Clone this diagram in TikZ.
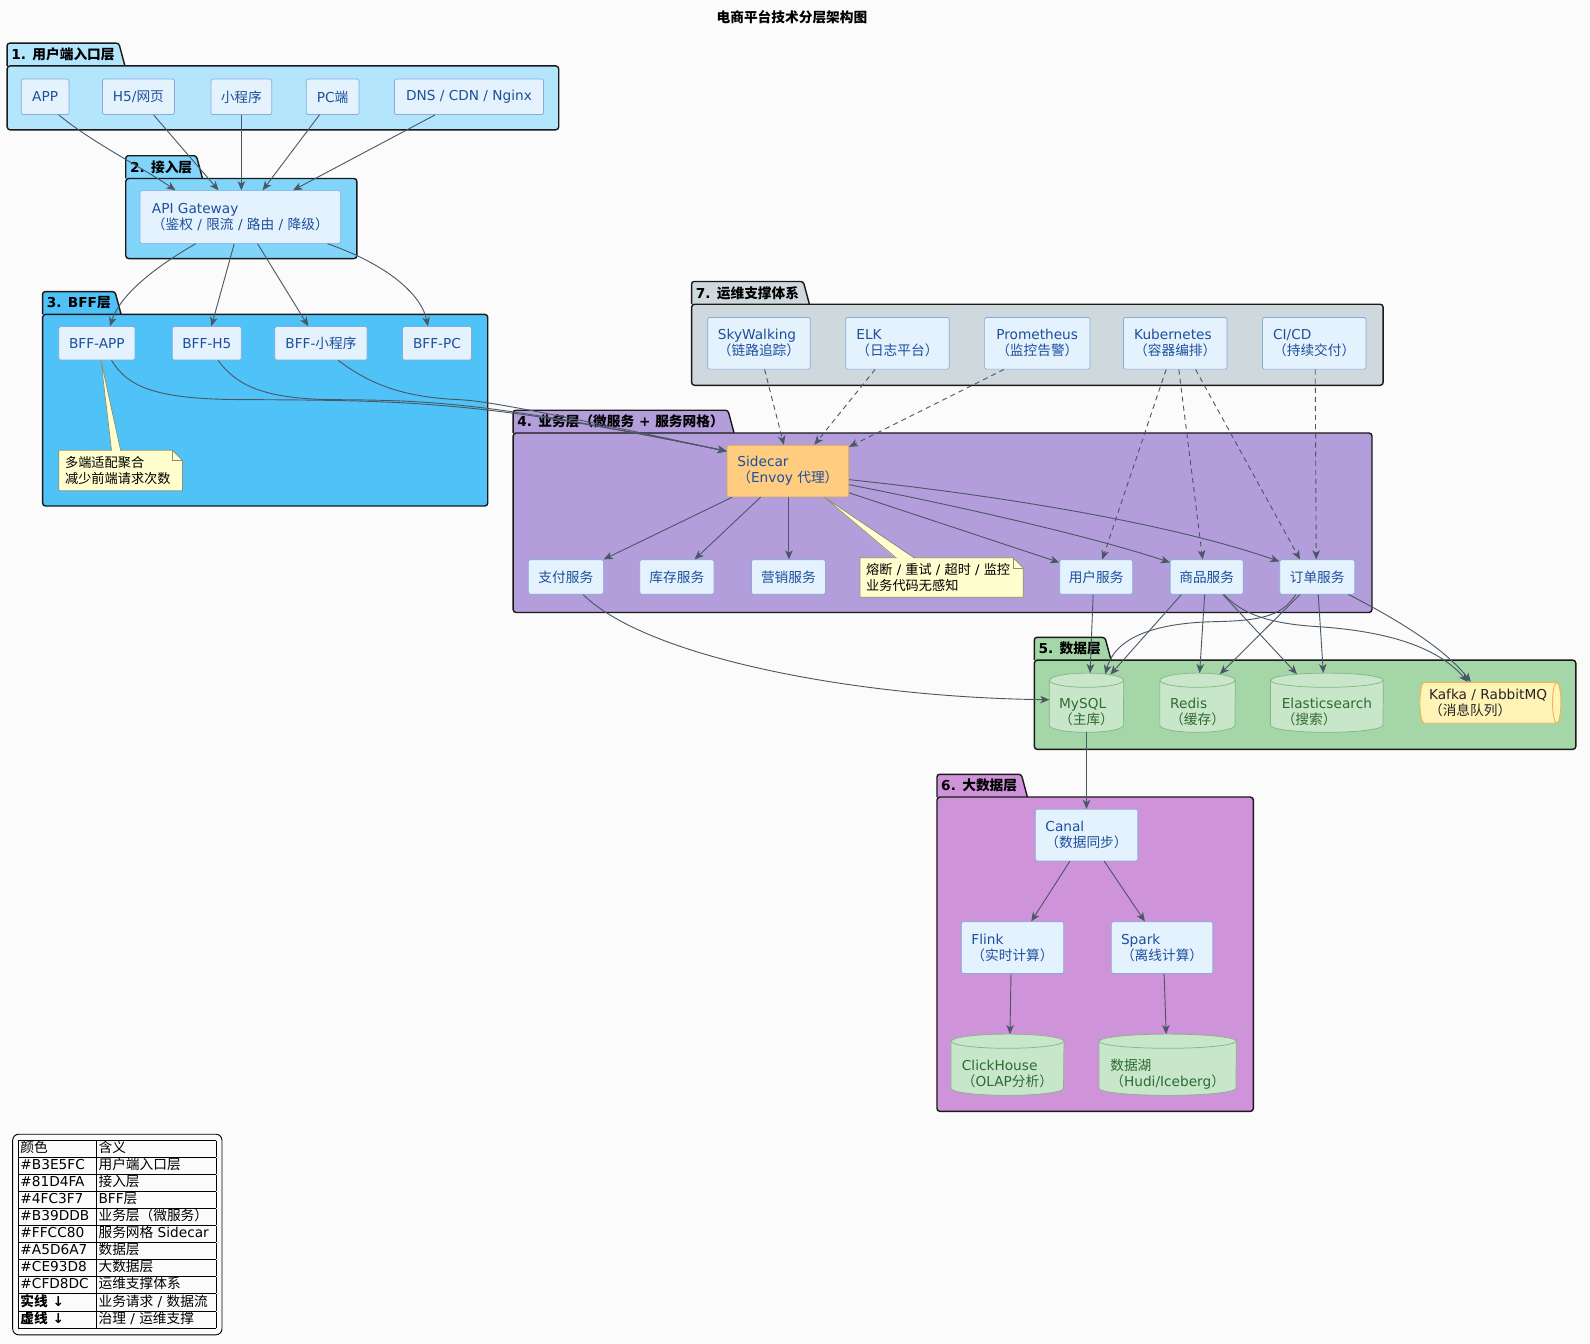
\documentclass[tikz,border=0pt]{standalone}
\usepackage{fontspec}
\setmainfont{DejaVu Sans}
\newfontfamily\cjkfont{Noto Sans CJK SC}
\usetikzlibrary{arrows.meta,shapes.geometric,fit}

\XeTeXinterchartokenstate=1
\newXeTeXintercharclass\cjkcls
\newcount\cjkc
\cjkc="2E80 \loop\XeTeXcharclass\cjkc=\cjkcls\ifnum\cjkc<"9FFF\advance\cjkc by 1\repeat
\cjkc="FF00 \loop\XeTeXcharclass\cjkc=\cjkcls\ifnum\cjkc<"FFEF\advance\cjkc by 1\repeat
\XeTeXinterchartoks 0 \cjkcls={\cjkfont}
\XeTeXinterchartoks 4095 \cjkcls={\cjkfont}
\XeTeXinterchartoks \cjkcls 0={\rmfamily}
\XeTeXinterchartoks \cjkcls 4095={\rmfamily}

\definecolor{cBg}{HTML}{FBFBFB}
\definecolor{cP1}{HTML}{B3E5FC}
\definecolor{cP2}{HTML}{81D4FA}
\definecolor{cP3}{HTML}{4FC3F7}
\definecolor{cP4}{HTML}{B39DDB}
\definecolor{cSide}{HTML}{FFCC80}
\definecolor{cSideD}{HTML}{D4A55A}
\definecolor{cP5}{HTML}{A5D6A7}
\definecolor{cP6}{HTML}{CE93D8}
\definecolor{cP7}{HTML}{CFD8DC}
\definecolor{cCompF}{HTML}{E3F2FD}
\definecolor{cCompD}{HTML}{86ACDB}
\definecolor{cCompT}{HTML}{1E4F9C}
\definecolor{cCylF}{HTML}{C8E6C9}
\definecolor{cCylD}{HTML}{85B587}
\definecolor{cCylT}{HTML}{2E6B31}
\definecolor{cKafF}{HTML}{FFF3B5}
\definecolor{cKafD}{HTML}{F2B552}
\definecolor{cNoteF}{HTML}{FEFECE}
\definecolor{cNoteD}{HTML}{8E8E72}
\definecolor{cArr}{HTML}{4A5866}

\newcommand\lbl{\fontsize{13.5}{16}\selectfont}
\newcommand\lgd{\fontsize{13.5}{15.6}\selectfont}

\newcommand\pkg[7]{%
  \node[tabtxt,text opacity=0] (#1t) at (#2,#3) {#7};
  \draw[pkgline,fill=#6,rounded corners=2.5pt] (#1t.south west) -- (#1t.north west) -- (#1t.north east) -- ([xshift=6pt]#1t.south east);
  \draw[pkgline,fill=#6,rounded corners=3pt] (#2,#3) rectangle (#4,#5);
  \node[tabtxt] (#1l) at (#2,#3) {#7};
}
\newcommand\notebox[6]{%
  \draw[notebd] (#2,#3) -- (#4-10,#3) -- (#4,#3+10) -- (#4,#5) -- (#2,#5) -- cycle;
  \draw[notebd,fill=none] (#4-10,#3) -- (#4-10,#3+10) -- (#4,#3+10);
  \node[notetxt,anchor=west] (#1) at (#2+6,{(#3+#5)/2}) {#6};
}
% cylinder: name, x, y, width, height, text
\newcommand\dbcyl[6]{%
  \node[inner sep=0pt, minimum width=#4, minimum height=#5] (#1) at (#2,#3) {};
  \draw[cylst] ([yshift=-7pt]#1.north west) -- ([yshift=7pt]#1.south west)
    arc[start angle=180, end angle=360, x radius={#4*0.5pt}, y radius=7pt]
    -- ([yshift=-7pt]#1.north east)
    arc[start angle=0, end angle=180, x radius={#4*0.5pt}, y radius=7pt] -- cycle;
  \draw[cylst, fill=none] ([yshift=-7pt]#1.north west)
    arc[start angle=180, end angle=360, x radius={#4*0.5pt}, y radius=7pt];
  \node[cyltxt] (#1t) at ([yshift=-9pt]#1.center) {#6};
}

\begin{document}
\begin{tikzpicture}[x=1pt,y=-1pt,
  comp/.style={draw=cCompD, fill=cCompF, text=cCompT, line width=0.7pt, rounded corners=1.5pt, font=\lbl, inner sep=0pt},
  comp2/.style={comp, align=left},
  cylst/.style={draw=cCylD, fill=cCylF, line width=0.7pt},
  cyltxt/.style={text=cCylT, font=\lbl, align=left, inner sep=0pt},
  arr/.style={draw=cArr, line width=0.9pt, -{Stealth[length=9pt,width=7.5pt,inset=2.5pt]}},
  darr/.style={arr, dash pattern=on 5pt off 4pt},
  pkgline/.style={draw=black!90, line width=1.4pt},
  tabtxt/.style={font=\bfseries\lbl, inner xsep=4pt, inner ysep=0pt, minimum height=22pt, anchor=south west},
  notebd/.style={draw=cNoteD, fill=cNoteF, line width=0.7pt},
  notetxt/.style={font=\fontsize{13}{16}\selectfont, align=left, inner sep=0pt, text=black}
]
\fill[cBg] (0,0) rectangle (1568,1325);
\useasboundingbox (0,0) rectangle (1568,1325);

\node[font=\bfseries\lbl] (title) at (781,17) {电商平台技术分层架构图};

% packages
\pkg{p1}{7}{65}{551}{128}{cP1}{1. 用户端入口层}
\pkg{p2}{124}{176}{352}{255}{cP2}{2. 接入层}
\pkg{p3}{42}{310}{481}{499}{cP3}{3. BFF层}
\pkg{p7}{682}{300}{1364}{380}{cP7}{7. 运维支撑体系}
\pkg{p4}{506}{427}{1353}{604}{cP4}{4. 业务层（微服务 + 服务网格）}
\pkg{p5}{1020}{651}{1554}{739}{cP5}{5. 数据层}
\pkg{p6}{924}{786}{1236}{1096}{cP6}{6. 大数据层}

% layer 1
\node[comp, minimum width=47, minimum height=35] (app) at (44.5,95.5) {APP};
\node[comp, minimum width=71, minimum height=35] (h5) at (136.5,95.5) {H5/网页};
\node[comp, minimum width=60, minimum height=35] (mini) at (238,95.5) {小程序};
\node[comp, minimum width=52, minimum height=35] (pc) at (328,95.5) {PC端};
\node[comp, minimum width=147, minimum height=35] (dns) at (462.5,95.5) {DNS / CDN / Nginx};

% layer 2
\node[comp2, minimum width=198, minimum height=52] (gw) at (237,214) {API Gateway\\（鉴权 / 限流 / 路由 / 降级）};

% layer 3
\node[comp, minimum width=75, minimum height=33] (bffapp) at (95.5,338.5) {BFF-APP};
\node[comp, minimum width=68, minimum height=33] (bffh5) at (204,338.5) {BFF-H5};
\node[comp, minimum width=91, minimum height=33] (bffmini) at (316.5,338.5) {BFF-小程序};
\node[comp, minimum width=68, minimum height=33] (bffpc) at (431,338.5) {BFF-PC};
\notebox{n1}{58}{444}{180}{484}{多端适配聚合\\减少前端请求次数}

% layer 7
\node[comp2, minimum width=101, minimum height=51] (sky) at (748.5,338.5) {SkyWalking\\（链路追踪）};
\node[comp2, minimum width=102, minimum height=51] (elk) at (885,338.5) {ELK\\（日志平台）};
\node[comp2, minimum width=104, minimum height=51] (prom) at (1023,338.5) {Prometheus\\（监控告警）};
\node[comp2, minimum width=102, minimum height=51] (k8s) at (1159,338.5) {Kubernetes\\（容器编排）};
\node[comp2, minimum width=102, minimum height=51] (cicd) at (1296,338.5) {CI/CD\\（持续交付）};

% layer 4
\node[comp2, fill=cSide, draw=cSideD, minimum width=120, minimum height=51] (sidecar) at (777,464.5) {Sidecar\\（Envoy 代理）};
\node[comp, minimum width=74, minimum height=34] (pay) at (558,569) {支付服务};
\node[comp, minimum width=73, minimum height=34] (stock) at (667.5,569) {库存服务};
\node[comp, minimum width=73, minimum height=34] (mkt) at (777.5,569) {营销服务};
\notebox{n2}{848}{550}{1009}{589}{熔断 / 重试 / 超时 / 监控\\业务代码无感知}
\node[comp, minimum width=72, minimum height=34] (user) at (1081,569) {用户服务};
\node[comp, minimum width=72, minimum height=34] (goods) at (1190,569) {商品服务};
\node[comp, minimum width=74, minimum height=34] (order) at (1299,569) {订单服务};

% layer 5
\dbcyl{mysql}{1071.5}{693}{73}{58}{MySQL\\（主库）}
\dbcyl{redis}{1181}{693}{74}{58}{Redis\\（缓存）}
\dbcyl{es}{1308.5}{693}{111}{58}{Elasticsearch\\（搜索）}
\node[cylinder, aspect=0.3, draw=cKafD, fill=cKafF, text=black!85, line width=0.9pt, font=\lbl, align=left, inner sep=0pt, minimum width=40, minimum height=139] (kafka) at (1467.5,693) {Kafka / RabbitMQ\\（消息队列）};

% layer 6
\node[comp2, minimum width=101, minimum height=51] (canal) at (1071.5,823.5) {Canal\\（数据同步）};
\node[comp2, minimum width=101, minimum height=51] (flink) at (998.5,934.5) {Flink\\（实时计算）};
\node[comp2, minimum width=100, minimum height=51] (spark) at (1146,934.5) {Spark\\（离线计算）};
\dbcyl{ch}{993.5}{1050}{111}{60}{ClickHouse\\（OLAP分析）}
\dbcyl{lake}{1151.5}{1050}{135}{60}{数据湖\\（Hudi/Iceberg）}

% note wedges
\fill[cNoteF] ([xshift=4pt]bffapp.south) -- (110,445) -- (119,445) -- cycle;
\draw[cNoteD, line width=0.7pt] (110,444.3) -- ([xshift=4pt]bffapp.south) -- (119,444.3);
\fill[cNoteF] ([xshift=36pt]sidecar.south) -- (884,551) -- (902,551) -- cycle;
\draw[cNoteD, line width=0.7pt] (884,550.3) -- ([xshift=36pt]sidecar.south) -- (902,550.3);

% edges 1 -> 2
\draw[arr] ([xshift=13.5pt]app.south) .. controls (90,140) and (140,165) .. ([xshift=-64pt]gw.north);
\draw[arr] ([xshift=15pt]h5.south) -- ([xshift=-21.5pt]gw.north);
\draw[arr] (mini.south) -- ([xshift=1pt]gw.north);
\draw[arr] ([xshift=-13pt]pc.south) -- ([xshift=22pt]gw.north);
\draw[arr] ([xshift=-33.5pt]dns.south) -- ([xshift=52pt]gw.north);

% edges 2 -> 3
\draw[arr] ([xshift=-44pt]gw.south) .. controls (150,265) and (118,292) .. ([xshift=13pt]bffapp.north);
\draw[arr] ([xshift=-6pt]gw.south) -- ([xshift=4.5pt]bffh5.north);
\draw[arr] ([xshift=17pt]gw.south) -- ([xshift=-12.5pt]bffmini.north);
\draw[arr] ([xshift=86pt]gw.south) .. controls (385,262) and (416,292) .. ([xshift=-9pt]bffpc.north);

% edges 3 -> sidecar
\draw[arr] ([xshift=14.5pt]bffapp.south) .. controls (125,380) and (150,393) .. (230,394) .. controls (400,395) and (470,394) .. ([yshift=19.5pt]sidecar.west);
\draw[arr] ([xshift=11pt]bffh5.south) .. controls (232,378) and (255,392) .. (320,394) .. controls (420,395) and (470,394) .. ([yshift=19.5pt]sidecar.west);
\draw[arr] ([xshift=17pt]bffmini.south) .. controls (360,375) and (390,391) .. (450,394) .. controls (470,395) and (490,396) .. ([yshift=19.5pt]sidecar.west);

% ops dashed
\draw[darr] ([xshift=5.5pt]sky.south) -- ([xshift=-4pt]sidecar.north);
\draw[darr] ([xshift=-22pt]elk.south) -- ([xshift=26pt]sidecar.north);
\draw[darr] ([xshift=-33pt]prom.south) -- ([yshift=-2pt]sidecar.north east);
\draw[darr] ([xshift=-9pt]k8s.south) -- ([xshift=6pt]user.north);
\draw[darr] ([xshift=3.5pt]k8s.south) -- ([xshift=-4pt]goods.north);
\draw[darr] ([xshift=20pt]k8s.south) -- ([xshift=-17pt]order.north);
\draw[darr] ([xshift=1pt]cicd.south) -- ([xshift=-1pt]order.north);

% sidecar -> services
\draw[arr] ([xshift=-55pt]sidecar.south) -- (pay.north east);
\draw[arr] ([xshift=-27pt]sidecar.south) -- ([xshift=17.5pt]stock.north);
\draw[arr] ([xshift=1pt]sidecar.south) -- ([xshift=0.5pt]mkt.north);
\draw[arr] ([yshift=-21.5pt]sidecar.east) -- ([yshift=-3pt]user.north west);
\draw[arr] ([yshift=-13.5pt]sidecar.east) .. controls (950,500) and (1080,530) .. ([yshift=-3pt]goods.north west);
\draw[arr] ([yshift=-8.5pt]sidecar.east) .. controls (980,488) and (1150,515) .. ([yshift=-2pt]order.north west);

% services -> data
\draw[arr] ([xshift=17pt]pay.south) .. controls (640,650) and (850,688) .. ([yshift=3pt]mysql.west);
\draw[arr] ([xshift=-3pt]user.south) -- ([xshift=3.5pt]mysql.north);
\draw[arr] ([xshift=-25pt]goods.south) -- ([xshift=23.5pt,yshift=-1.5pt]mysql.north);
\draw[arr] ([xshift=-21pt]order.south) .. controls (1265,605) and (1250,612) .. (1200,613) .. controls (1140,614) and (1100,628) .. ([xshift=18.5pt,yshift=-1pt]mysql.north);
\draw[arr] ([xshift=-2pt]goods.south) -- ([xshift=2pt]redis.north);
\draw[arr] ([xshift=-17pt]order.south) -- ([xshift=22pt,yshift=-1pt]redis.north);
\draw[arr] ([xshift=16pt]goods.south) -- ([xshift=-29.5pt,yshift=-1pt]es.north);
\draw[arr] ([xshift=1pt]order.south) -- ([xshift=-3.5pt]es.north);
\draw[arr] ([xshift=17pt]goods.south) .. controls (1225,605) and (1250,615) .. (1300,618) .. controls (1360,622) and (1415,635) .. ([xshift=-20pt]kafka.north);
\draw[arr] ([xshift=31pt]order.south) .. controls (1380,612) and (1425,640) .. ([xshift=-17pt]kafka.north);

% big data
\draw[arr] (mysql.south) -- (canal.north);
\draw[arr] ([xshift=-16.5pt]canal.south) -- ([xshift=18.5pt]flink.north);
\draw[arr] ([xshift=17.5pt]canal.south) -- ([xshift=-17pt]spark.north);
\draw[arr] ([xshift=-1.5pt]flink.south) -- ([xshift=2.5pt]ch.north);
\draw[arr] ([xshift=2pt]spark.south) -- ([xshift=-1.5pt]lake.north);

% legend
\node[anchor=north west, inner sep=0pt, font=\lgd] (legtab) at (18,1124) {%
\setlength\tabcolsep{2pt}\setlength\arrayrulewidth{0.8pt}\renewcommand\arraystretch{1}%
\begin{tabular}{|p{73pt}|p{114pt}|}\hline
颜色 & 含义\\\hline
\#B3E5FC & 用户端入口层\\\hline
\#81D4FA & 接入层\\\hline
\#4FC3F7 & BFF层\\\hline
\#B39DDB & 业务层（微服务）\\\hline
\#FFCC80 & 服务网格 Sidecar\\\hline
\#A5D6A7 & 数据层\\\hline
\#CE93D8 & 大数据层\\\hline
\#CFD8DC & 运维支撑体系\\\hline
\textbf{实线 ↓} & 业务请求 / 数据流\\\hline
\textbf{虚线 ↓} & 治理 / 运维支撑\\\hline
\end{tabular}};
\node[draw=black, line width=0.9pt, rounded corners=6pt, inner sep=5.5pt, fit=(legtab)] (legbox) {};
\end{tikzpicture}
\end{document}
